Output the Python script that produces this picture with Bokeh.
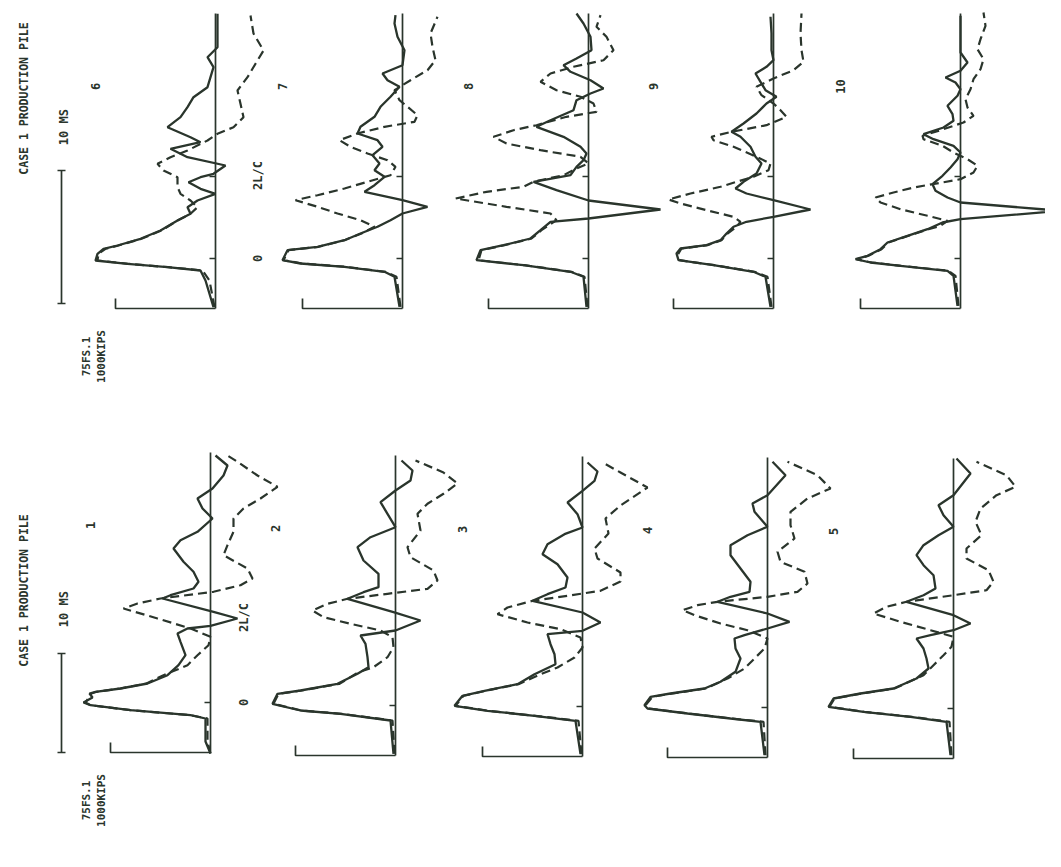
import math
from bokeh.plotting import figure
from bokeh.models import Range1d
from bokeh.embed import file_html
from bokeh.resources import INLINE
from bokeh.core.properties import value

# ---------------- DATA (time in ms, force in kips) ----------------
# solid = measured force, dashed = computed force
R1_SOLID_T = [-5.1, -3.9, -1.6, -1.27, -0.77, -0.27, 0.0, 0.5, 0.9, 1.07, 1.4, 1.9, 2.73, 3.73, 4.73, 6.07, 6.9, 7.4, 7.67, 8.4, 9.07, 10.4, 10.73, 11.4, 12.07, 13.07, 14.07, 15.4, 16.23, 17.07, 18.4, 19.4, 20.4, 21.4, 22.7, 23.7, 24.7]
R1_SOLID_F = [0, 50, 50, 200, 800, 1200, 1270, 1180, 1210, 1150, 900, 630, 430, 320, 250, 300, 330, 230, 0, -270, -30, 480, 400, 170, 120, 170, 270, 370, 300, 130, -20, 80, 130, -20, -130, -170, -50]
R1_DASH_T = [-5.1, -3.9, -1.6, -1.27, -0.77, -0.27, 0.0, 0.9, 1.07, 1.4, 1.9, 2.73, 3.73, 4.73, 5.73, 6.57, 7.4, 8.4, 9.4, 9.9, 10.4, 11.07, 11.73, 12.4, 13.4, 14.73, 15.73, 17.07, 18.4, 19.4, 20.4, 21.57, 22.7, 24.07, 24.7]
R1_DASH_F = [0, 30, 30, 200, 800, 1200, 1250, 1190, 1140, 900, 640, 470, 230, 130, 20, 0, 200, 530, 870, 730, 500, -30, -300, -420, -370, -130, -170, -230, -230, -330, -500, -670, -470, -270, -170]

R2_SOLID_T = [-4.83, -1.5, -0.83, -0.5, 0.17, 1.17, 1.5, 2.17, 3.17, 3.83, 4.83, 6.17, 7.0, 7.5, 8.5, 9.33, 10.67, 11.33, 11.83, 13.17, 14.5, 15.83, 16.83, 17.83, 19.17, 20.33, 21.5, 22.5, 23.5, 24.5]
R2_SOLID_F = [20, 50, 550, 950, 1230, 1180, 950, 580, 380, 270, 280, 300, 350, 0, -250, 20, 480, 320, 170, 170, 320, 380, 250, 0, 80, 150, 0, -150, -170, -60]
R2_DASH_T = [-4.83, -1.5, -0.83, -0.5, 0.17, 1.17, 1.5, 2.17, 3.33, 3.83, 4.83, 5.83, 6.83, 7.5, 8.17, 8.83, 9.5, 10.17, 10.67, 11.17, 11.67, 12.5, 13.5, 14.83, 15.83, 17.5, 19.17, 20.17, 21.17, 22.2, 23.3, 24.5]
R2_DASH_F = [10, 30, 540, 940, 1220, 1170, 940, 560, 370, 220, 80, 20, 30, 150, 450, 720, 830, 680, 480, 80, -320, -420, -380, -150, -120, -250, -220, -320, -480, -620, -480, -200]

R3_SOLID_T = [-4.77, -1.43, -0.93, -0.43, 0.07, 1.07, 1.57, 2.23, 3.23, 4.23, 5.23, 6.23, 7.23, 7.57, 8.4, 9.4, 10.57, 11.23, 11.9, 12.9, 14.23, 15.23, 16.23, 17.23, 17.9, 19.23, 20.4, 21.57, 22.57, 23.5, 24.4]
R3_SOLID_F = [20, 70, 480, 950, 1280, 1200, 980, 650, 480, 270, 280, 320, 350, 0, -180, 0, 500, 350, 170, 150, 250, 400, 350, 180, 0, 50, 150, 0, -120, -150, -50]
R3_DASH_T = [-4.77, -1.43, -0.93, -0.43, 0.07, 1.07, 1.57, 2.23, 3.23, 3.9, 4.9, 5.9, 6.9, 7.73, 8.4, 9.23, 9.9, 10.57, 11.07, 11.57, 12.5, 13.4, 14.8, 15.8, 17.3, 18.8, 20.1, 21.9, 23.4, 24.4]
R3_DASH_F = [10, 40, 470, 940, 1270, 1190, 970, 640, 420, 250, 80, 0, 20, 220, 550, 850, 750, 500, 150, -180, -380, -380, -150, -120, -260, -230, -380, -650, -380, -200]

R4_SOLID_T = [-4.77, -1.43, -1.1, -0.6, -0.1, 0.23, 1.07, 1.4, 1.9, 2.57, 3.57, 4.9, 5.9, 6.9, 7.23, 7.9, 8.57, 9.4, 10.57, 11.07, 11.57, 12.57, 13.9, 15.23, 16.23, 17.23, 18.07, 19.57, 20.4, 21.23, 23.23, 24.57]
R4_SOLID_F = [30, 70, 370, 800, 1200, 1230, 1170, 970, 630, 470, 320, 270, 320, 330, 230, 0, -220, 0, 500, 370, 180, 170, 270, 370, 370, 200, 0, 130, 150, 0, -180, -50]
R4_DASH_T = [-4.77, -1.43, -1.1, -0.6, -0.1, 0.23, 1.07, 1.4, 1.9, 2.9, 3.9, 4.9, 5.9, 6.9, 7.73, 8.4, 9.23, 9.73, 10.23, 10.57, 11.07, 11.57, 12.4, 13.57, 14.57, 15.57, 16.9, 18.23, 19.57, 20.9, 21.9, 23.23, 24.57]
R4_DASH_F = [20, 40, 360, 790, 1190, 1220, 1150, 950, 620, 400, 230, 130, 30, 0, 200, 470, 730, 850, 700, 500, 0, -300, -400, -370, -130, -100, -270, -230, -230, -400, -630, -500, -200]

R5_SOLID_T = [-4.67, -1.33, -0.83, -0.33, 0.17, 1.0, 1.5, 2.0, 3.0, 4.0, 5.0, 6.0, 7.0, 7.33, 7.83, 8.5, 9.33, 10.67, 11.33, 12.0, 13.33, 14.33, 15.33, 16.33, 17.33, 18.17, 19.33, 20.33, 21.33, 23.5, 25.0]
R5_SOLID_F = [30, 70, 430, 900, 1250, 1200, 930, 600, 370, 250, 270, 300, 370, 230, 0, -170, 0, 470, 300, 180, 200, 300, 370, 300, 150, 0, 100, 150, 0, -170, -30]
R5_DASH_T = [-4.67, -1.33, -0.83, -0.33, 0.17, 1.0, 1.5, 2.0, 3.33, 4.33, 5.33, 6.17, 7.17, 7.83, 8.67, 9.5, 10.17, 10.67, 11.33, 11.83, 12.67, 13.83, 15.0, 16.0, 17.33, 18.67, 20.0, 21.33, 22.17, 23.33, 24.67]
R5_DASH_F = [20, 40, 420, 890, 1240, 1190, 920, 590, 300, 200, 100, 20, 0, 230, 530, 800, 670, 470, 0, -330, -400, -350, -130, -130, -280, -220, -270, -430, -620, -530, -230]

R6_SOLID_T = [-4.87, -2.2, -1.2, -0.87, -0.53, -0.2, 0.47, 0.97, 1.3, 1.97, 2.8, 3.8, 4.47, 5.13, 5.8, 6.47, 6.97, 7.63, 8.13, 8.47, 9.3, 10.13, 10.97, 11.63, 12.13, 13.13, 14.13, 15.13, 16.13, 17.13, 18.13, 19.13, 20.13, 21.13, 22.47, 24.47]
R6_SOLID_F = [20, 100, 150, 480, 880, 1200, 1180, 1120, 980, 750, 550, 380, 250, 280, 180, 0, 150, 270, 150, 20, -100, 280, 450, 150, 250, 480, 350, 280, 220, 80, 50, 20, 80, -20, -20, -20]
R6_DASH_T = [-4.87, -2.2, -1.2, -0.87, -0.53, -0.2, 0.47, 0.97, 1.3, 1.97, 2.8, 3.8, 4.47, 5.13, 5.8, 6.47, 7.13, 8.13, 8.8, 9.47, 10.13, 10.8, 11.8, 12.47, 13.13, 14.13, 15.47, 16.8, 18.13, 19.47, 20.8, 22.5, 24.3]
R6_DASH_F = [10, 60, 130, 470, 870, 1180, 1170, 1100, 970, 740, 540, 380, 250, 180, 250, 350, 380, 380, 520, 580, 450, 280, 80, -20, -180, -280, -250, -220, -320, -400, -480, -380, -350]

R7_SOLID_T = [-4.83, -1.83, -1.33, -0.83, -0.5, -0.17, 0.83, 1.17, 1.83, 2.5, 3.17, 3.83, 4.5, 5.17, 5.83, 6.67, 7.33, 8.17, 8.83, 9.5, 10.33, 11.17, 11.83, 12.5, 13.17, 14.17, 15.17, 16.17, 17.17, 17.83, 18.5, 19.33, 20.83, 22.17, 23.5, 24.33]
R7_SOLID_F = [30, 80, 180, 580, 1020, 1200, 1150, 850, 580, 420, 250, 120, 0, -250, 0, 380, 280, 180, 280, 230, 300, 200, 250, 450, 420, 280, 220, 120, 30, 150, 200, 0, -20, 50, 80, 70]
R7_DASH_T = [-4.83, -1.83, -1.33, -0.83, -0.5, -0.17, 0.83, 1.17, 1.83, 2.5, 3.17, 3.83, 4.5, 5.17, 5.83, 6.33, 7.0, 7.67, 8.33, 9.17, 9.83, 10.5, 11.17, 11.83, 12.5, 13.17, 13.67, 14.33, 15.17, 15.83, 16.83, 17.83, 18.83, 19.83, 21.17, 22.5, 24.17]
R7_DASH_F = [20, 60, 170, 570, 1000, 1190, 1140, 840, 580, 410, 280, 420, 650, 850, 1070, 850, 580, 350, 120, 70, 150, 350, 520, 630, 450, 180, -120, -150, -50, 30, 80, -80, -250, -330, -300, -280, -350]

R8_SOLID_T = [-4.83, -1.83, -1.33, -0.67, -0.17, 0.83, 1.33, 2.0, 2.83, 3.67, 4.0, 4.9, 5.8, 6.83, 7.67, 8.33, 9.17, 9.83, 10.5, 11.17, 12.17, 13.17, 13.83, 14.83, 15.83, 16.5, 17.0, 17.83, 18.67, 19.33, 20.0, 20.83, 22.17, 23.5, 24.5]
R8_SOLID_F = [20, 50, 180, 650, 1120, 1080, 850, 580, 480, 380, 0, -720, 0, 320, 550, 180, 120, 50, 20, 80, 250, 520, 380, 150, 120, -20, -150, -20, 180, 250, 120, -30, -20, 50, 120]
R8_DASH_T = [-4.83, -1.83, -1.33, -0.67, -0.17, 0.83, 1.33, 2.0, 2.83, 3.83, 4.5, 5.17, 6.0, 6.67, 7.17, 7.67, 8.33, 9.0, 9.5, 10.17, 10.83, 11.5, 12.17, 12.83, 13.33, 14.17, 14.67, 15.5, 16.17, 16.83, 17.67, 18.5, 19.17, 19.83, 20.83, 22.17, 23.17, 24.33]
R8_DASH_F = [10, 40, 170, 640, 1100, 1070, 840, 570, 470, 320, 380, 820, 1330, 1020, 650, 550, 250, 120, 0, 80, 480, 820, 950, 750, 520, 220, -80, -50, 80, 320, 480, 380, 150, -150, -250, -180, -80, -120]

R9_SOLID_T = [-4.83, -1.83, -1.33, -0.67, -0.17, 0.5, 1.0, 1.33, 1.83, 2.5, 3.17, 3.67, 4.17, 4.9, 5.83, 6.5, 7.0, 7.67, 8.5, 9.5, 10.17, 11.17, 12.17, 12.67, 13.5, 14.5, 15.5, 16.17, 16.83, 17.67, 18.5, 19.17, 19.83, 20.83, 22.5, 24.17]
R9_SOLID_F = [30, 80, 200, 600, 950, 970, 930, 670, 530, 470, 400, 270, 0, -370, 0, 270, 380, 300, 170, 120, 180, 230, 330, 420, 300, 170, 70, -30, 80, 130, 180, 70, 0, 20, 20, 30]
R9_DASH_T = [-4.83, -1.83, -1.33, -0.67, -0.17, 0.5, 1.0, 1.33, 1.83, 2.5, 3.17, 3.67, 4.17, 4.83, 5.5, 5.9, 6.5, 7.17, 7.67, 8.17, 8.83, 9.5, 10.17, 11.17, 11.83, 12.17, 12.67, 13.33, 14.17, 14.83, 15.5, 16.33, 17.17, 18.0, 18.83, 19.67, 20.83, 22.5, 24.5]
R9_DASH_F = [20, 60, 190, 590, 940, 950, 920, 660, 520, 460, 370, 330, 400, 670, 930, 1050, 830, 530, 370, 200, 50, 30, 170, 400, 600, 620, 420, 70, -130, -70, 0, 120, 170, 0, -200, -300, -280, -270, -280]

R10_SOLID_T = [-4.73, -1.73, -1.23, -0.73, -0.4, -0.07, 0.27, 0.93, 1.6, 2.27, 2.93, 3.6, 3.93, 4.77, 5.6, 6.1, 6.77, 7.43, 8.27, 9.1, 9.93, 10.6, 11.27, 11.93, 12.43, 13.1, 13.77, 14.43, 15.27, 16.27, 16.93, 17.6, 18.1, 18.77, 19.6, 20.6, 22.6, 24.27]
R10_SOLID_F = [30, 70, 130, 600, 900, 1050, 930, 800, 730, 530, 330, 180, 0, -1000, 0, 130, 250, 280, 180, 100, 30, 0, 70, 270, 370, 170, 70, 80, 130, 30, 0, 50, 150, 0, -70, 0, 0, 0]
R10_DASH_T = [-4.73, -1.73, -1.23, -0.73, -0.4, -0.07, 0.27, 0.93, 1.6, 2.27, 2.93, 3.27, 3.77, 4.27, 4.93, 5.6, 6.1, 6.6, 7.1, 7.43, 7.93, 8.6, 9.27, 9.93, 10.6, 11.27, 11.93, 12.27, 12.93, 13.6, 14.27, 15.1, 15.93, 16.93, 17.93, 18.93, 19.93, 20.93, 21.93, 23.27, 24.6]
R10_DASH_F = [20, 50, 120, 590, 890, 1040, 920, 790, 720, 520, 320, 200, 130, 330, 600, 800, 850, 670, 470, 280, 0, -130, -170, -70, 70, 180, 370, 380, 170, -30, -130, -70, -50, -100, -130, -200, -230, -170, -200, -250, -230]

RECORD_LABELS = ["1", "2", "3", "4", "5", "6", "7", "8", "9", "10"]
TITLE = "CASE 1 PRODUCTION PILE"
TIME_SCALE_LABEL = "10  MS"
FILE_LABEL = "75FS.1"
FORCE_SCALE_LABEL = "1000KIPS"
FORCE_SCALE = 1000      # kips, length of the bracket at the foot of each record
TWO_L_OVER_C = 8.2      # ms
T_START = -5.0
T_END_TOP = 24.5
T_END_BOTTOM = 25.0

# ---------------- LAYOUT ----------------
INK = "#2a352c"
W, H = 1045, 851
p = figure(width=W, height=H, output_backend="svg", toolbar_location=None,
           x_range=Range1d(-80, -80 + W * 10), y_range=Range1d(0.8 - H / 10, 0.8), min_border=0)
p.axis.visible = False
p.xgrid.visible = False
p.ygrid.visible = False
p.outline_line_color = None
p.background_fill_color = "white"
p.border_fill_color = "white"

# trace origins (force zero line position, time zero position)
TOP_OX = [2070, 3940, 5800, 7650, 9520]
TOP_OY = [-25.0] * 5
BOT_OX = [2020, 3870, 5740, 7590, 9450]
BOT_OY = [-69.4, -69.7, -69.8, -69.9, -70.0]

records = [
    (R1_SOLID_T, R1_SOLID_F, R1_DASH_T, R1_DASH_F),
    (R2_SOLID_T, R2_SOLID_F, R2_DASH_T, R2_DASH_F),
    (R3_SOLID_T, R3_SOLID_F, R3_DASH_T, R3_DASH_F),
    (R4_SOLID_T, R4_SOLID_F, R4_DASH_T, R4_DASH_F),
    (R5_SOLID_T, R5_SOLID_F, R5_DASH_T, R5_DASH_F),
    (R6_SOLID_T, R6_SOLID_F, R6_DASH_T, R6_DASH_F),
    (R7_SOLID_T, R7_SOLID_F, R7_DASH_T, R7_DASH_F),
    (R8_SOLID_T, R8_SOLID_F, R8_DASH_T, R8_DASH_F),
    (R9_SOLID_T, R9_SOLID_F, R9_DASH_T, R9_DASH_F),
    (R10_SOLID_T, R10_SOLID_F, R10_DASH_T, R10_DASH_F),
]
origins = list(zip(BOT_OX, BOT_OY)) + list(zip(TOP_OX, TOP_OY))

FONT = value("DejaVu Sans Mono")
VERT = math.pi / 2
TXT = dict(angle=VERT, text_font=FONT, text_font_style="bold", text_align="center",
           text_baseline="middle", text_color=INK)

for i, ((st, sf, dt, df), (ox, oy)) in enumerate(zip(records, origins)):
    top = i >= 5
    t_end = T_END_TOP if top else T_END_BOTTOM
    # zero-force line
    p.line([ox, ox], [oy + T_START, oy + t_end], line_color=INK, line_width=1.7)
    # force scale bracket
    p.line([ox - FORCE_SCALE, ox - FORCE_SCALE, ox], [oy + T_START + 1.0, oy + T_START, oy + T_START],
           line_color=INK, line_width=1.7)
    # time ticks
    p.line([ox, ox - 60], [oy, oy], line_color=INK, line_width=1.5)
    if top:
        p.line([ox, ox - 60], [oy + TWO_L_OVER_C, oy + TWO_L_OVER_C], line_color=INK, line_width=1.5)
    # computed (dashed) and measured (solid)
    p.line([ox - f for f in df], [oy + t for t in dt], line_color=INK, line_width=2.2, line_dash="9 5")
    p.line([ox - f for f in sf], [oy + t for t in st], line_color=INK, line_width=2.3)
    # record number
    lt = 17.2 if top else 17.7
    p.text(x=[ox - 1200], y=[oy + lt], text=[RECORD_LABELS[i]], text_font_size="12px", **TXT)

# "0" and "2L/C" markers beside the first record of each panel
for ox, oy, top in [(TOP_OX[0], TOP_OY[0], True), (BOT_OX[0], BOT_OY[0], False)]:
    xx = ox + (420 if top else 330)
    p.text(x=[xx, xx], y=[oy, oy + TWO_L_OVER_C + (0.1 if top else 0.3)], text=["0", "2L/C"],
           text_font_size="12px", **TXT)

# title, time scale and force scale labels
TITLE_Y = [-9.0, -58.2]
MS_Y = [-11.5, -59.7]
BAR_Y = [(-16.2, -29.5), (-64.5, -74.4)]
KIPS_Y = [-34.8, -79.2]
for k in range(2):
    p.text(x=[150], y=[TITLE_Y[k]], text=[TITLE], text_font_size="11.5px", **TXT)
    p.text(x=[550], y=[MS_Y[k]], text=[TIME_SCALE_LABEL], text_font_size="12px", **TXT)
    y0, y1 = BAR_Y[k]
    p.line([530, 530], [y0, y1], line_color=INK, line_width=1.7)
    p.line([490, 570], [y0, y0], line_color=INK, line_width=1.7)
    p.line([490, 570], [y1, y1], line_color=INK, line_width=1.7)
    p.text(x=[780, 930], y=[KIPS_Y[k], KIPS_Y[k]], text=[FILE_LABEL, FORCE_SCALE_LABEL],
           text_font_size="11px", **TXT)

open("out.html", "w").write(file_html(p, INLINE))
